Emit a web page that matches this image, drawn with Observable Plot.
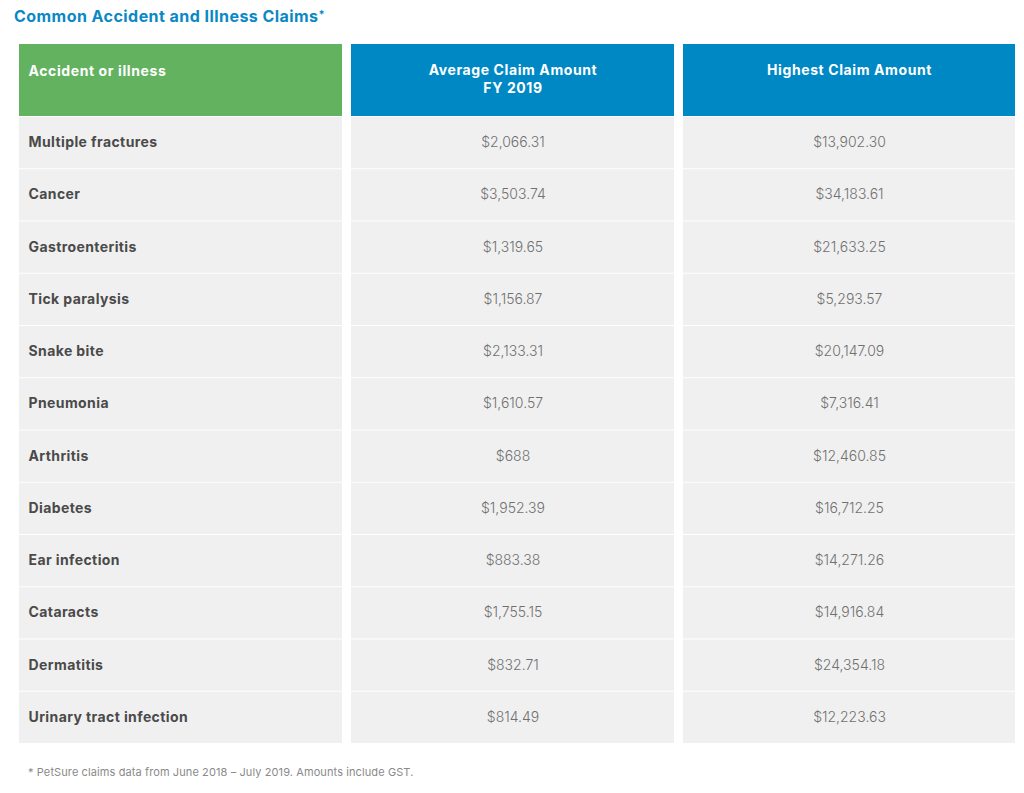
<!DOCTYPE html>
<html><head><meta charset="utf-8">
<script src="https://cdn.jsdelivr.net/npm/d3@7"></script>
<script src="https://cdn.jsdelivr.net/npm/@observablehq/plot@0.6"></script>
<style>
body{margin:0;background:#fff;font-family:Inter, "Open Sans", sans-serif;}
#title{position:absolute;left:14px;top:6px;font-size:16px;font-weight:700;color:#0a88c6;white-space:nowrap;letter-spacing:0.45px;}
#title .ast{font-size:11px;vertical-align:4px;}
#chart{position:absolute;left:0;top:30px;}
#note{position:absolute;left:28px;top:765px;font-size:11px;color:#8a8a8a;white-space:nowrap;letter-spacing:0.1px;}
#chart g[font-weight="700"]{letter-spacing:0.4px;}
#chart g.hdr{letter-spacing:0.6px;}
</style></head><body>
<div id="title">Common Accident and Illness Claims<span class="ast">*</span></div>
<div id="chart"></div>
<div id="note">* PetSure claims data from June 2018 – July 2019. Amounts include GST.</div>
<script>
// ---- data ----
const conditions = ["Multiple fractures","Cancer","Gastroenteritis","Tick paralysis","Snake bite","Pneumonia","Arthritis","Diabetes","Ear infection","Cataracts","Dermatitis","Urinary tract infection"];
const averageClaim = [2066.31,3503.74,1319.65,1156.87,2133.31,1610.57,688,1952.39,883.38,1755.15,832.71,814.49];
const highestClaim = [13902.30,34183.61,21633.25,5293.57,20147.09,7316.41,12460.85,16712.25,14271.26,14916.84,24354.18,12223.63];
const headers = ["Accident or illness","Average Claim Amount\nFY 2019","Highest Claim Amount"];
const headerColors = ["#62b25f","#0088c5","#0088c5"];

// ---- layout ----
const colEdges = [[0,323],[332,655],[664,996]];
const headerH = 72/52.25; // header height in row units
const fmt = v => Number.isInteger(v) ? d3.format("$,")(v) : d3.format("$,.2f")(v);

const headerCells = headers.map((h,c)=>({label:h, c, x1:colEdges[c][0], x2:colEdges[c][1], color:headerColors[c]}));
const rows = [];
conditions.forEach((name,i)=>{
  const vals = [name, fmt(averageClaim[i]), fmt(highestClaim[i])];
  vals.forEach((v,c)=>rows.push({label:v, c, i, x1:colEdges[c][0], x2:colEdges[c][1], y1:headerH+i, y2:headerH+i+1}));
});

const chart = Plot.plot({
  width:1024, height:713,
  marginTop:14, marginBottom:0, marginLeft:19, marginRight:9,
  x:{domain:[0,996], axis:null},
  y:{domain:[0, headerH+conditions.length], reverse:true, axis:null},
  style:{fontFamily:"Inter, 'Open Sans', sans-serif", background:"#fff"},
  marks:[
    Plot.rect(headerCells,{x1:"x1",x2:"x2",y1:()=>0,y2:()=>headerH,fill:"color"}),
    Plot.rect(rows,{x1:"x1",x2:"x2",y1:"y1",y2:"y2",fill:"#f0f0f0",insetTop:1}),
    Plot.text(headerCells.filter(d=>d.c===0),{x:"x1",y:()=>0,text:"label",textAnchor:"start",dx:9,dy:22,lineAnchor:"top",fill:"#fff",fontWeight:700,fontSize:14}),
    Plot.text(headerCells.filter(d=>d.c>0),{x:d=>(d.x1+d.x2)/2,y:()=>0,text:"label",textAnchor:"middle",dy:18,lineAnchor:"top",lineHeight:1.286,fill:"#fff",fontWeight:700,fontSize:14}),
    Plot.text(rows.filter(d=>d.c===0),{x:"x1",y:d=>d.y1+0.5,text:"label",textAnchor:"start",dx:9,fill:"#4a4a4a",fontWeight:700,fontSize:14}),
    Plot.text(rows.filter(d=>d.c>0),{x:d=>(d.x1+d.x2)/2,y:d=>d.y1+0.5,text:"label",textAnchor:"middle",fill:"#707070",fontWeight:300,fontSize:14})
  ]
});
// wider tracking for the white header labels
d3.select(chart).selectAll('g[fill="white"], g[fill="#fff"]').classed("hdr", true);
document.getElementById("chart").appendChild(chart);
</script>
</body></html>
